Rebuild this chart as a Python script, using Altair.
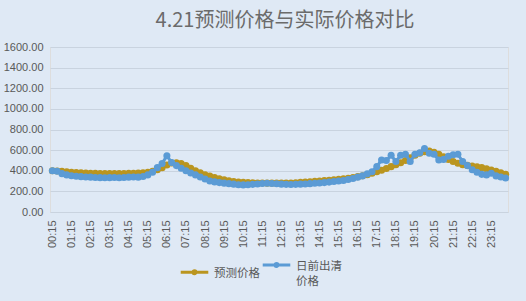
import altair as alt
import pandas as pd

# categories: 15-minute intervals 00:15 ... 24:00
times = [f"{(15 * (i + 1)) // 60:02d}:{(15 * (i + 1)) % 60:02d}" for i in range(96)]
tick_labels = [f"{h:02d}:15" for h in range(24)]
y_ticks = [0, 200, 400, 600, 800, 1000, 1200, 1400, 1600]

series_names = ["预测价格", "日前出清价格"]
series_colors = ["#BA951F", "#5B9BD5"]

forecast = [
    400, 398, 395, 390,
    386, 383, 380, 378,
    376, 375, 374, 373,
    372, 372, 373, 374,
    375, 376, 378, 380,
    385, 395, 410, 430,
    455, 475, 478, 470,
    450, 425, 400, 380,
    362, 348, 335, 322,
    312, 303, 296, 291,
    288, 285, 283, 282,
    281, 280, 280, 280,
    280, 281, 282, 284,
    287, 290, 293, 297,
    300, 304, 308, 312,
    317, 322, 328, 335,
    343, 352, 362, 375,
    390, 405, 422, 440,
    458, 478, 500, 525,
    550, 570, 585, 590,
    580, 560, 535, 510,
    490, 472, 458, 452,
    445, 438, 430, 420,
    408, 395, 380, 365,
]

actual = [
    400, 395, 372, 360,
    352, 347, 343, 340,
    338, 335, 333, 332,
    333, 335, 332, 335,
    338, 340, 338, 345,
    360, 385, 430, 470,
    545, 480, 450, 425,
    400, 378, 360, 340,
    320, 300, 292, 285,
    280, 275, 270, 265,
    263, 265, 268, 272,
    276, 278, 276, 274,
    270, 268, 266, 268,
    270, 272, 275, 278,
    282, 285, 290, 295,
    300, 305, 315, 325,
    338, 350, 370, 390,
    440, 505, 500, 550,
    490, 550, 560, 490,
    560, 575, 615, 570,
    560, 505, 510, 540,
    555, 560, 490, 450,
    410, 385, 365, 360,
    375, 350, 340, 330,
]

df_f = pd.DataFrame({"time": times, "value": forecast, "series": series_names[0]})
df_a = pd.DataFrame({"time": times, "value": actual, "series": series_names[1]})

label_color = "#595959"
grid_color = "#C9D3DF"
bg = "#DFE9F5"

x_enc = alt.X(
    "time:N",
    sort=times,
    scale=alt.Scale(type="point", padding=0.5, domain=times),
    axis=alt.Axis(
        values=tick_labels, labelAngle=270, title=None, ticks=False, domain=False,
        grid=False, labelFontSize=11, labelColor=label_color, labelPadding=8,
        labelFont="Liberation Sans",
    ),
)
y_enc = alt.Y(
    "value:Q",
    scale=alt.Scale(domain=[0, 1600], nice=False),
    axis=alt.Axis(
        values=y_ticks, format=".2f", title=None, ticks=False, domain=False,
        gridColor=grid_color, gridWidth=1, labelFontSize=11, labelColor=label_color,
        labelPadding=7, labelFont="Liberation Sans",
    ),
)
legend_path = "M-1,-0.33L1,-0.33M-0.11,-0.33A0.11,0.11,0,1,0,0.11,-0.33A0.11,0.11,0,1,0,-0.11,-0.33"
color_enc = alt.Color(
    "series:N",
    sort=series_names,
    scale=alt.Scale(domain=series_names, range=series_colors),
    legend=alt.Legend(
        title=None, orient="none", direction="horizontal", legendX=129, legendY=207,
        symbolType=legend_path, symbolSize=760, symbolStrokeWidth=3,
        labelFont="Noto Sans CJK SC", labelFontSize=11.5, labelColor=label_color,
        labelBaseline="alphabetic", labelOffset=4, columnPadding=-4, padding=0,
        labelExpr="datum.label == '日前出清价格' ? ['日前出清', '价格'] : datum.label",
    ),
)

def layer(df):
    return alt.Chart(df).mark_line(
        strokeWidth=3,
        point=alt.OverlayMarkDef(filled=True, size=50, opacity=1),
    ).encode(x=x_enc, y=y_enc, color=color_enc)

chart = alt.layer(layer(df_f), layer(df_a)).properties(
    width=458,
    height=165,
    autosize=alt.AutoSizeParams(type="none"),
    padding={"left": 50, "top": 47, "right": 18, "bottom": 89},
    background=bg,
    title=alt.TitleParams(
        "4.21预测价格与实际价格对比", font="Noto Sans CJK SC", fontSize=20,
        fontWeight="normal", color="#6b6b6b", anchor="middle", dx=6, offset=10,
    ),
).configure_view(stroke=None).configure(style={"guide-label": {"lineHeight": 15}})

chart.save("out.html", embed_options={"renderer": "svg", "actions": False})
